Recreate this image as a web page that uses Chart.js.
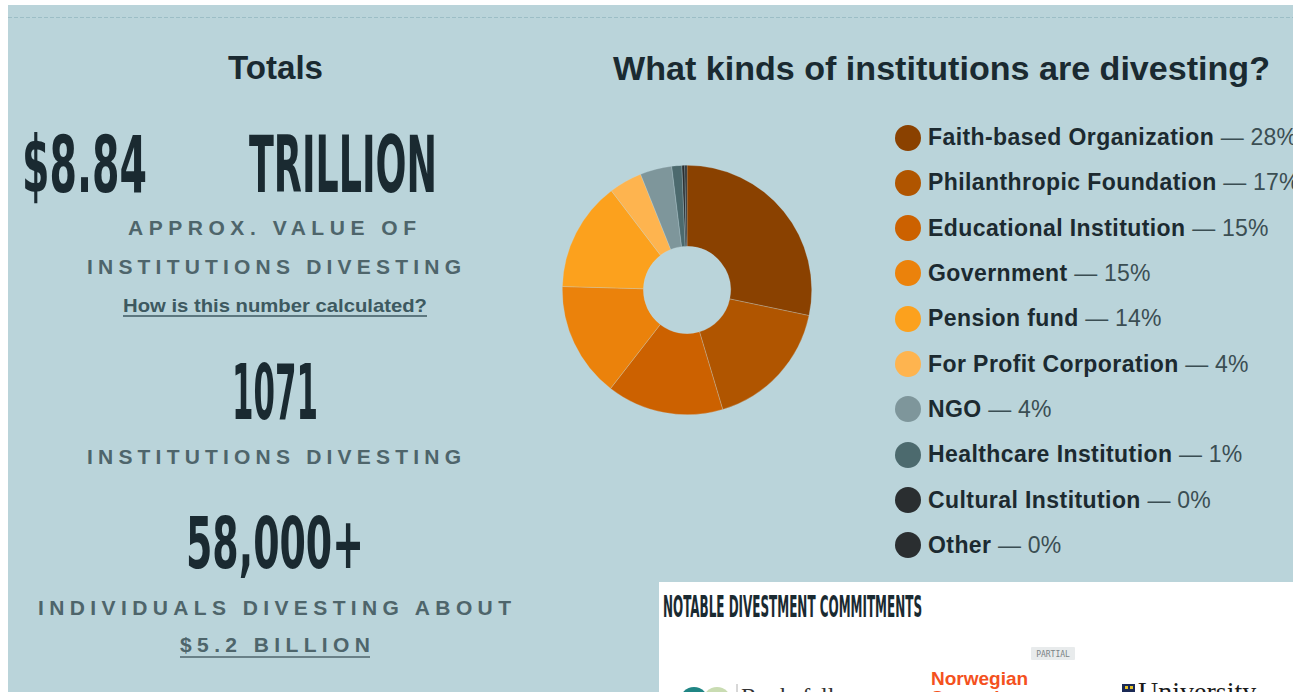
<!DOCTYPE html>
<html>
<head>
<meta charset="utf-8">
<script src="https://cdn.jsdelivr.net/npm/chart.js@4.4.1/dist/chart.umd.min.js"></script>
<style>
  html, body { margin: 0; padding: 0; width: 1293px; height: 692px; overflow: hidden; background: #ffffff; }
  #panel { position: absolute; left: 8px; top: 5px; width: 1285px; height: 687px; background: #bad4da; }
  #art { position: absolute; left: 0; top: 0; }
  #donut { position: absolute; left: 562px; top: 165px; width: 250px; height: 250px; }
  #legend { position: absolute; left: 895px; top: 0; width: 398px; height: 580px; overflow: hidden; }
  .row { position: absolute; left: 0; height: 26px; display: flex; align-items: center; white-space: nowrap;
         font-family: "Liberation Sans", Arial, sans-serif; font-size: 23px; }
  .dot { width: 26px; height: 26px; border-radius: 50%; margin-right: 7px; flex: none; }
  .name { font-weight: bold; color: #1c2a30; letter-spacing: 0.42px; }
  .pct { color: #3b4e53; letter-spacing: 0.2px; }
</style>
</head>
<body>
<div id="panel"></div>

<svg id="art" width="1293" height="692" xmlns="http://www.w3.org/2000/svg">
  <!-- dashed rule along the top of the section -->
  <line x1="8" y1="17.5" x2="1293" y2="17.5" stroke="#9cbec6" stroke-width="1" stroke-dasharray="4 2"/>

  <!-- headings -->
  <text x="228" y="79" textLength="95" lengthAdjust="spacingAndGlyphs" font-family="Liberation Sans, Arial, sans-serif" font-weight="bold" font-size="34" fill="#1a2a31">Totals</text>
  <text x="613" y="80" textLength="657" lengthAdjust="spacingAndGlyphs" font-family="Liberation Sans, Arial, sans-serif" font-weight="bold" font-size="34" fill="#1a2a31">What kinds of institutions are divesting?</text>

  <!-- totals column -->
  <g font-family="'DejaVu Sans Condensed', 'DejaVu Sans', sans-serif" font-weight="bold" fill="#1a2a31">
    <text x="22" y="192" textLength="125" lengthAdjust="spacingAndGlyphs" font-size="79">$8.84</text>
    <text x="249" y="192" textLength="188" lengthAdjust="spacingAndGlyphs" font-size="79">TRILLION</text>
    <text x="232" y="419" textLength="86" lengthAdjust="spacingAndGlyphs" font-size="76">1071</text>
    <text x="186" y="568" textLength="178" lengthAdjust="spacingAndGlyphs" font-size="72">58,000+</text>
  </g>

  <g font-family="Liberation Sans, Arial, sans-serif" font-weight="bold" font-size="21" fill="#4e656b">
    <text x="128" y="235" textLength="288" lengthAdjust="spacing">APPROX. VALUE OF</text>
    <text x="87" y="274" textLength="374" lengthAdjust="spacing">INSTITUTIONS DIVESTING</text>
    <text x="87" y="464" textLength="374" lengthAdjust="spacing">INSTITUTIONS DIVESTING</text>
    <text x="38" y="615" textLength="473" lengthAdjust="spacing">INDIVIDUALS DIVESTING ABOUT</text>
    <text x="180" y="652" textLength="190" lengthAdjust="spacing">$5.2 BILLION</text>
  </g>
  <line x1="180" y1="657" x2="370" y2="657" stroke="#4e656b" stroke-width="1.5"/>

  <text x="123" y="312" textLength="304" lengthAdjust="spacingAndGlyphs" font-family="Liberation Sans, Arial, sans-serif" font-weight="bold" font-size="19" fill="#3d5960">How is this number calculated?</text>
  <line x1="123" y1="316" x2="427" y2="316" stroke="#3d5960" stroke-width="1.5"/>

  <!-- notable commitments card -->
  <rect x="659" y="582" width="634" height="110" fill="#ffffff"/>
  <text x="663" y="617" textLength="259" lengthAdjust="spacingAndGlyphs" font-family="'DejaVu Sans Condensed', 'DejaVu Sans', sans-serif" font-weight="bold" font-size="31" fill="#1a2a31">NOTABLE DIVESTMENT COMMITMENTS</text>

  <rect x="1031" y="647" width="44" height="13" rx="1" fill="#e8ebec"/>
  <text x="1053" y="657" text-anchor="middle" font-family="DejaVu Sans Mono, monospace" font-size="8" fill="#7b8386">PARTIAL</text>

  <circle cx="694" cy="701" r="14" fill="#1f8584"/>
  <circle cx="717" cy="701" r="14" fill="#c9dcb2"/>
  <line x1="737" y1="684" x2="737" y2="692" stroke="#b0b0b0" stroke-width="1"/>
  <text x="741" y="704" font-family="Liberation Serif, serif" font-size="24" fill="#333333">Rockefeller</text>

  <text x="931" y="685" font-family="Liberation Sans, Arial, sans-serif" font-weight="bold" font-size="19" fill="#f4511e">Norwegian</text>
  <text x="931" y="704" font-family="Liberation Sans, Arial, sans-serif" font-weight="bold" font-size="19" fill="#f4511e">Sovereign</text>

  <rect x="1122" y="684" width="13" height="10" fill="#1b2a56"/>
  <rect x="1125" y="686" width="3" height="3" fill="#e6c229"/>
  <rect x="1130" y="686" width="3" height="3" fill="#e6c229"/>
  <text x="1138" y="701" font-family="Liberation Serif, serif" font-size="28" fill="#1a1a1a">University</text>
</svg>

<canvas id="donut" width="250" height="250"></canvas>
<div id="legend"></div>

<script>
// Institution types and how many have committed to divest
const categories = [
  "Faith-based Organization",
  "Philanthropic Foundation",
  "Educational Institution",
  "Government",
  "Pension fund",
  "For Profit Corporation",
  "NGO",
  "Healthcare Institution",
  "Cultural Institution",
  "Other"
];
const institutionCounts = [303, 183, 162, 160, 152, 46, 44, 14, 4, 3];
const sliceColors = [
  "#8a4100", "#b05500", "#cc6100", "#eb820b", "#fca11d",
  "#feb44f", "#7e969b", "#4c6a6e", "#2a2e30", "#2a2e30"
];

const total = institutionCounts.reduce((a, b) => a + b, 0);

const chart = new Chart(document.getElementById("donut"), {
  type: "doughnut",
  data: {
    labels: categories,
    datasets: [{
      data: institutionCounts,
      backgroundColor: sliceColors,
      borderColor: "rgba(200, 222, 228, 0.45)",
      borderWidth: 0.6,
      hoverOffset: 0
    }]
  },
  options: {
    responsive: false,
    animation: false,
    cutout: "35%",
    layout: { padding: 0 },
    plugins: {
      legend: { display: false },
      tooltip: { enabled: false }
    }
  }
});

// Legend: one row per institution type, share rounded to whole percent
const legend = document.getElementById("legend");
const rowStep = 45.33;
const firstCenter = 137.5;
categories.forEach((name, i) => {
  const row = document.createElement("div");
  row.className = "row";
  row.style.top = (firstCenter - 13 + rowStep * i) + "px";
  const dot = document.createElement("span");
  dot.className = "dot";
  dot.style.background = chart.data.datasets[0].backgroundColor[i];
  const label = document.createElement("span");
  label.className = "name";
  label.textContent = name;
  const pct = document.createElement("span");
  pct.className = "pct";
  pct.textContent = "\u00a0\u2014 " + Math.round(institutionCounts[i] / total * 100) + "%";
  row.appendChild(dot);
  row.appendChild(label);
  row.appendChild(pct);
  legend.appendChild(row);
});
</script>
</body>
</html>
